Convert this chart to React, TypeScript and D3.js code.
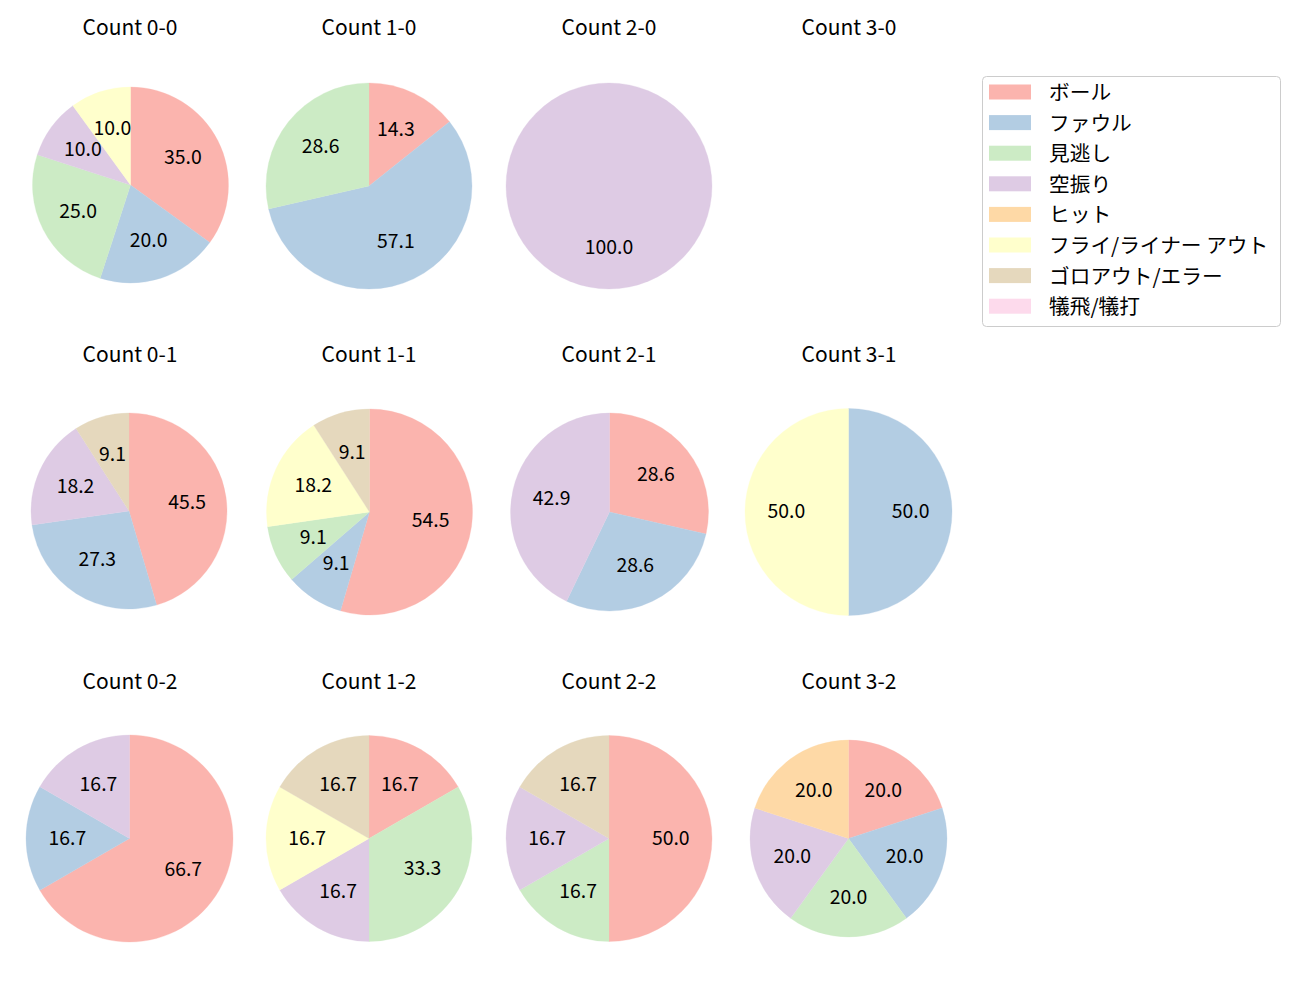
import React from "react";
import * as d3 from "d3";

const categories = ["ボール", "ファウル", "見逃し", "空振り", "ヒット", "フライ/ライナー アウト", "ゴロアウト/エラー", "犠飛/犠打"];
const colors = ["#fbb4ae", "#b3cde3", "#ccebc5", "#decbe4", "#fed9a6", "#ffffcc", "#e5d8bd", "#fddaec"];

const countLabels = [
  "Count 0-0", "Count 1-0", "Count 2-0", "Count 3-0",
  "Count 0-1", "Count 1-1", "Count 2-1", "Count 3-1",
  "Count 0-2", "Count 1-2", "Count 2-2", "Count 3-2",
];

// pitch counts per category (same order as categories)
const count00 = [7, 4, 5, 2, 0, 2, 0, 0];
const count10 = [1, 4, 2, 0, 0, 0, 0, 0];
const count20 = [0, 0, 0, 1, 0, 0, 0, 0];
const count30 = [0, 0, 0, 0, 0, 0, 0, 0];
const count01 = [5, 3, 0, 2, 0, 0, 1, 0];
const count11 = [6, 1, 1, 0, 0, 2, 1, 0];
const count21 = [2, 2, 0, 3, 0, 0, 0, 0];
const count31 = [0, 1, 0, 0, 0, 1, 0, 0];
const count02 = [4, 1, 0, 1, 0, 0, 0, 0];
const count12 = [1, 0, 2, 1, 0, 1, 1, 0];
const count22 = [3, 0, 1, 1, 0, 0, 1, 0];
const count32 = [1, 1, 1, 1, 1, 0, 0, 0];

const allCounts = [count00, count10, count20, count30, count01, count11, count21, count31, count02, count12, count22, count32];

// layout
const colX = [[130.5, 129, 129.5], [369, 369.5, 369], [609, 609.5, 609], [848.5, 848.5, 848.5]];
const rowY = [[185, 511, 838.5], [186, 512, 838.5], [186, 512, 838.5], [186, 512, 838.5]];
const radii = [[98, 98, 103.5], [103, 103, 103], [103, 99, 103], [103, 103.5, 98.5]];
const titleY = [35, 362, 689];
const titleX = [130, 369, 609, 849];

const FONT = "'Noto Sans CJK JP', 'Noto Sans', sans-serif";

function Pie({ values, cx, cy, r }: { values: number[]; cx: number; cy: number; r: number }) {
  const total = d3.sum(values);
  if (total === 0) return null;
  const items = values.map((v, i) => ({ v, i })).filter((d) => d.v > 0);
  const pie = d3.pie<{ v: number; i: number }>().value((d) => d.v).sort(null).startAngle(0).endAngle(2 * Math.PI);
  const arcs = pie(items);
  const arc = d3.arc<d3.PieArcDatum<{ v: number; i: number }>>().innerRadius(0).outerRadius(r);
  return (
    <g transform={`translate(${cx},${cy})`}>
      {arcs.map((a, k) => (
        <path key={k} d={arc(a) || ""} fill={colors[a.data.i]} stroke={colors[a.data.i]} strokeWidth={0.3} />
      ))}
      {arcs.map((a, k) => {
        const mid = (a.startAngle + a.endAngle) / 2;
        const x = 0.6 * r * Math.sin(mid);
        const y = -0.6 * r * Math.cos(mid);
        return (
          <text key={"t" + k} x={x} y={y - 2.5} textAnchor="middle" dominantBaseline="central" fontSize={19.4} fill="#000">
            {((a.data.v / total) * 100).toFixed(1)}
          </text>
        );
      })}
    </g>
  );
}

export default function App() {
  return (
    <svg width={1300} height={1000} style={{ display: "block", position: "absolute", left: 0, top: 0, fontFamily: FONT }}>
      <rect width={1300} height={1000} fill="#fff" />
      {allCounts.map((vals, idx) => {
        const col = idx % 4;
        const row = Math.floor(idx / 4);
        return (
          <g key={idx}>
            <text x={titleX[col]} y={titleY[row]} textAnchor="middle" fontSize={21} fill="#000">
              {countLabels[idx]}
            </text>
            <Pie values={vals} cx={colX[col][row]} cy={rowY[col][row]} r={radii[col][row]} />
          </g>
        );
      })}
      <g>
        <rect x={982.5} y={76.5} width={298} height={250} rx={4} fill="#fff" stroke="#cccccc" strokeWidth={1} />
        {categories.map((c, i) => (
          <g key={c} transform={`translate(0,${92 + i * 30.6})`}>
            <rect x={989} y={-7.5} width={42} height={15} fill={colors[i]} />
            <text x={1049} y={-1} dominantBaseline="central" fontSize={20.7} fill="#000">
              {c}
            </text>
          </g>
        ))}
      </g>
    </svg>
  );
}
